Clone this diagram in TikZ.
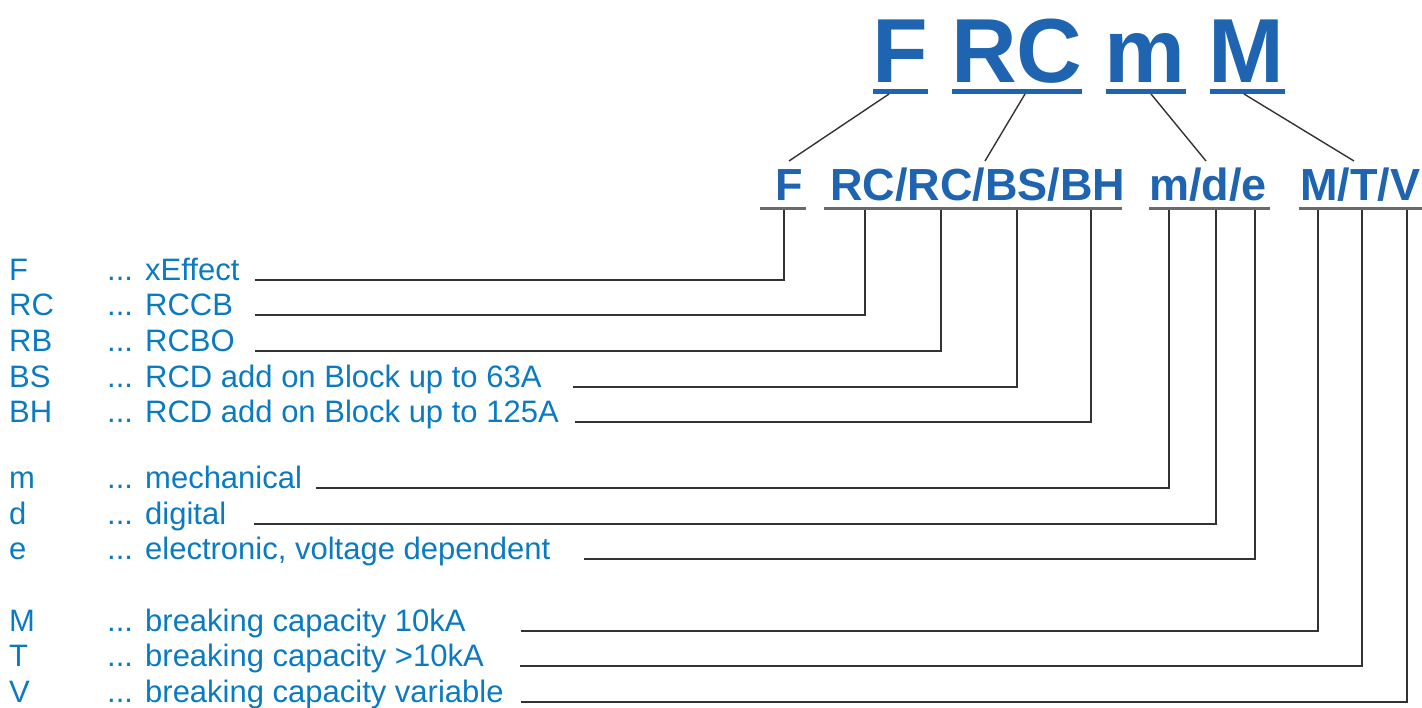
\documentclass[tikz,border=0pt]{standalone}
\usepackage{fontspec}
\setmainfont{Liberation Sans}
\definecolor{bigblue}{HTML}{1E64B0}
\definecolor{txtblue}{HTML}{0A7BC2}
\definecolor{leadgray}{HTML}{333333}
\definecolor{ulgray}{HTML}{6A6A6A}
\begin{document}
\begin{tikzpicture}[x=1pt,y=-1pt,
  big/.style={inner sep=0pt, anchor=base west, text=bigblue, font=\fontsize{91}{91}\selectfont\bfseries},
  mid/.style={inner sep=0pt, anchor=base west, text=bigblue, font=\fontsize{45}{45}\selectfont\bfseries},
  lbl/.style={inner sep=0pt, anchor=base west, text=txtblue, font=\fontsize{31}{31}\selectfont},
  bar/.style={line width=5pt, draw=bigblue},
  ulbar/.style={line width=3pt, draw=ulgray},
  lead/.style={line width=1.4pt, draw=leadgray},
]
\useasboundingbox (0,0) rectangle (1422,707);

% top code
\node[big] (tF)  at (872,82) {F};
\node[big] (tRC) at (951,82) {RC};
\node[big] (tm)  at (1104,82) {m};
\node[big] (tM)  at (1208,82) {M};
\coordinate (bF1) at (873,91.5);  \coordinate (bF2) at (928,91.5);
\coordinate (bR1) at (952,91.5);  \coordinate (bR2) at (1082,91.5);
\coordinate (bm1) at (1106,91.5); \coordinate (bm2) at (1186,91.5);
\coordinate (bM1) at (1210,91.5); \coordinate (bM2) at (1285,91.5);
\draw[bar] (bF1) -- (bF2);
\draw[bar] (bR1) -- (bR2);
\draw[bar] (bm1) -- (bm2);
\draw[bar] (bM1) -- (bM2);

% second row
\node[mid] (sF)   at (775,200) {F};
\node[mid] (sRC)  at (830,200) {RC/RC/BS/BH};
\node[mid] (smde) at (1149,200) {m/d/e};
\node[mid] (sMTV) at (1300,200) {M/T/V};
\coordinate (uF1) at (760,208);  \coordinate (uF2) at (806,208);
\coordinate (uR1) at (824,208);  \coordinate (uR2) at (1122,208);
\coordinate (um1) at (1149,208); \coordinate (um2) at (1270,208);
\coordinate (uM1) at (1299,208); \coordinate (uM2) at (1422,208);
\draw[ulbar] (uF1) -- (uF2);
\draw[ulbar] (uR1) -- (uR2);
\draw[ulbar] (um1) -- (um2);
\draw[ulbar] (uM1) -- (uM2);

% diagonal connectors
\coordinate (dF1) at (889,94);   \coordinate (dF2) at (789,161);
\coordinate (dR1) at (1025,94);  \coordinate (dR2) at (985,161);
\coordinate (dm1) at (1151,94);  \coordinate (dm2) at (1206,161);
\coordinate (dM1) at (1244,94);  \coordinate (dM2) at (1354,161);
\draw[lead] (dF1) -- (dF2);
\draw[lead] (dR1) -- (dR2);
\draw[lead] (dm1) -- (dm2);
\draw[lead] (dM1) -- (dM2);

% legend
\foreach \nm/\code/\desc/\ly in {
  F/F/xEffect/280,
  RC/RC/RCCB/315,
  RB/RB/RCBO/351,
  BS/BS/RCD add on Block up to 63A/387,
  BH/BH/RCD add on Block up to 125A/422,
  m/m/mechanical/488,
  d/d/digital/524,
  e/e/{electronic, voltage dependent}/559,
  M/M/breaking capacity 10kA/631,
  T/T/breaking capacity >10kA/666,
  V/V/breaking capacity variable/702}{
  \node[lbl] (c\nm) at (9,\ly) {\code};
  \node[lbl] (p\nm) at (107,\ly) {...};
  \node[lbl] (t\nm) at (145,\ly) {\desc};
}

% leader lines: vertical from underline, then horizontal to the left
\foreach \nm/\vx/\sx/\ly in {
  F/784/255/280,
  RC/865/255/315,
  RB/941/255/351,
  BS/1017/573/387,
  BH/1091/575/422,
  m/1169/316/488,
  d/1216/254/524,
  e/1255/584/559,
  M/1318/521/631,
  T/1362/520/666,
  V/1407/521/702}{
  \coordinate (v\nm) at (\vx,209.5);
  \coordinate (e\nm) at (\sx,\ly);
  \draw[lead] (v\nm) |- (e\nm);
}
\end{tikzpicture}
\end{document}
